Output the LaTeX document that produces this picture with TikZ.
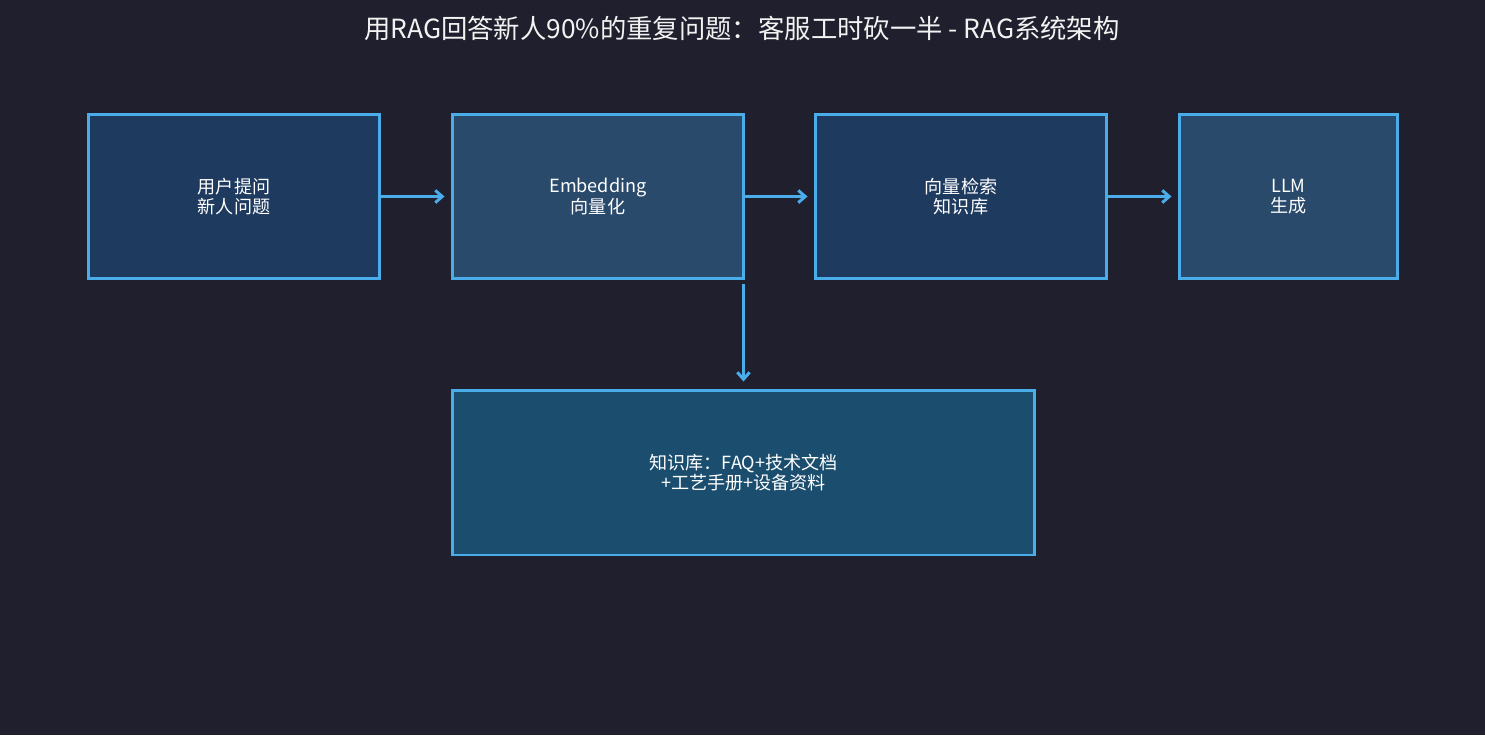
\documentclass[tikz,border=0pt]{standalone}
\usepackage{fontspec}
\setmainfont{Noto Sans CJK SC}
\usetikzlibrary{positioning,arrows.meta}
\definecolor{bgc}{HTML}{1F1F2E}
\definecolor{edgec}{HTML}{4AACE8}
\definecolor{boxa}{HTML}{1E3A5F}
\definecolor{boxb}{HTML}{2A4A6B}
\definecolor{boxk}{HTML}{1B4D6E}
\tikzset{
  stage/.style={draw=edgec, line width=1.7pt, text=white, align=center,
    minimum height=3.3cm, font=\fontsize{10.3}{11.5}\selectfont, inner sep=0pt},
  flow/.style={-{Straight Barb[length=4pt,width=7pt]}, draw=edgec, line width=1.7pt}
}
\begin{document}
\begin{tikzpicture}[x=0.02cm,y=-0.02cm]
    \fill[bgc](0,0)rectangle(1485,735);
    \useasboundingbox(0,0)rectangle(1485,735);
    \node[text=white!90!gray, font=\fontsize{15}{17}\selectfont](title)at(742,28){用RAG回答新人90\%的重复问题：客服工时砍一半 - RAG系统架构};

    \node[stage, fill=boxa, minimum width=5.84cm](user)at(234,196.5){用户提问\\新人问题};
    \node[stage, fill=boxb, minimum width=5.84cm](emb)at(598,196.5){Embedding\\向量化};
    \node[stage, fill=boxa, minimum width=5.84cm](search)at(961,196.5){向量检索\\知识库};
    \node[stage, fill=boxb, minimum width=4.38cm](llm)at(1288.5,196.5){LLM\\生成};
    \node[stage, fill=boxk, minimum width=11.66cm](kb)at(743.5,472.5){知识库：FAQ+技术文档\\+工艺手册+设备资料};

    \draw[flow](user.east)--([xshift=-0.12cm]emb.west);
    \draw[flow](emb.east)--([xshift=-0.12cm]search.west);
    \draw[flow](search.east)--([xshift=-0.12cm]llm.west);
    \coordinate(drop)at([xshift=-0.04cm,yshift=-0.08cm]emb.south east);
    \draw[flow](drop)--([yshift=0.14cm]kb.north -| drop);
\end{tikzpicture}
\end{document}
